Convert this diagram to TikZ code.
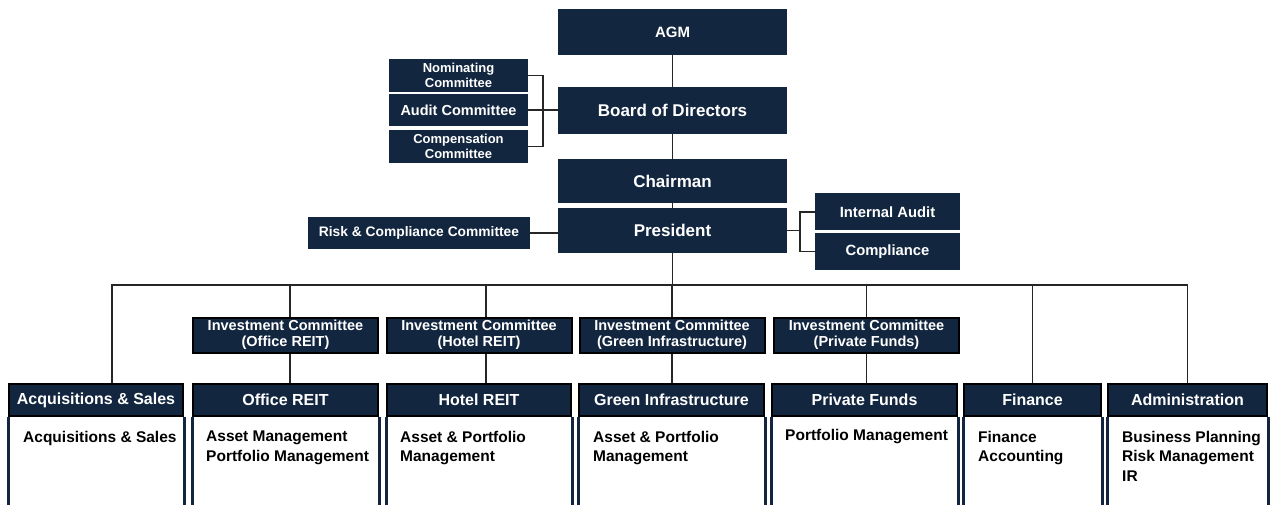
\documentclass[tikz,border=0pt]{standalone}
\usepackage{fontspec}
\setmainfont{Liberation Sans}
\definecolor{navy}{HTML}{13263F}
\begin{document}
\begin{tikzpicture}[x=1pt, y=-1pt,
    topbox/.style={fill=navy, text=white, font=\bfseries\fontsize{17}{20}\selectfont, minimum width=229pt, inner sep=0pt},
    combox/.style={fill=navy, text=white, align=center, font=\bfseries\fontsize{13}{15}\selectfont, minimum width=139pt, inner sep=0pt},
    sidebox/.style={fill=navy, text=white, font=\bfseries\fontsize{14.8}{17}\selectfont, inner sep=0pt},
    icbox/.style={fill=navy, draw=black, line width=2pt, text=white, align=center, font=\bfseries\fontsize{14.5}{16}\selectfont, minimum width=185pt, minimum height=35pt, inner sep=0pt},
    headbox/.style={fill=navy, draw=black, line width=2pt, text=white, font=\bfseries\fontsize{16}{19}\selectfont, minimum height=32pt, inner sep=0pt},
    bodytext/.style={anchor=north west, align=left, font=\bfseries\fontsize{15.5}{19.5}\selectfont, inner sep=0pt},
    bodyside/.style={navy, line width=3pt},
    link/.style={line width=1.2pt, black!85}]
    \useasboundingbox (0,0) rectangle (1288,505);

    % Top of the chart
    \node[topbox, minimum height=46pt, font=\bfseries\fontsize{15}{18}\selectfont] (agm) at (672.5,32) {AGM};
    \node[topbox, minimum height=47pt] (board) at (672.5,110.5) {Board of Directors};
    \node[topbox, minimum height=44pt] (chair) at (672.5,181) {Chairman};
    \node[topbox, minimum height=45pt] (pres) at (672.5,230.5) {President};
    \draw[link] (agm) -- (board);
    \draw[link] (board) -- (chair);
    \draw[link] (chair) -- (pres);

    % Board committees
    \node[combox, minimum height=33pt] (nomc) at (458.5,75.5) {Nominating\\Committee};
    \node[combox, minimum height=32pt, font=\bfseries\fontsize{14.5}{17}\selectfont] (audc) at (458.5,110) {Audit Committee};
    \node[combox, minimum height=33pt] (comc) at (458.5,146.5) {Compensation\\Committee};
    \coordinate (brL) at (543,110);
    \draw[link] (nomc.east) -| (brL) |- (comc.east);
    \draw[link] (audc.east) -- (board.west |- audc.east);

    % Beside the President
    \node[sidebox, minimum width=222pt, minimum height=32pt, font=\bfseries\fontsize{13.8}{16}\selectfont] (risk) at (419,233) {Risk \& Compliance Committee};
    \node[sidebox, minimum width=145pt, minimum height=37pt] (intaud) at (887.5,212) {Internal Audit};
    \node[sidebox, minimum width=145pt, minimum height=36pt] (compl) at (887.5,251.5) {Compliance};
    \coordinate (brR) at (800,230.5);
    \draw[link] (risk.east) -- (pres.west |- risk.east);
    \draw[link] (pres.east) -- (brR);
    \draw[link] (intaud.west) -| (brR) |- (compl.west);

    % Investment committees
    \node[icbox] (icOff) at (285.5,335) {Investment Committee\\(Office REIT)};
    \node[icbox] (icHot) at (479,335) {Investment Committee\\(Hotel REIT)};
    \node[icbox] (icGrn) at (672,335) {Investment Committee\\(Green Infrastructure)};
    \node[icbox] (icPrv) at (866.5,335) {Investment Committee\\(Private Funds)};

    % Departments
    \node[headbox, minimum width=174pt] (hAcq) at (96,400) {Acquisitions \& Sales};
    \node[headbox, minimum width=185pt] (hOff) at (285.5,400) {Office REIT};
    \node[headbox, minimum width=184pt] (hHot) at (479,400) {Hotel REIT};
    \node[headbox, minimum width=185pt] (hGrn) at (671.5,400) {Green Infrastructure};
    \node[headbox, minimum width=185pt] (hPrv) at (864.5,400) {Private Funds};
    \node[headbox, minimum width=137pt] (hFin) at (1032.5,400) {Finance};
    \node[headbox, minimum width=159pt] (hAdm) at (1187.5,400) {Administration};
    \foreach \h in {hAcq,hOff,hHot,hGrn,hPrv,hFin,hAdm} {
        \draw[bodyside] (\h.south west) -- (\h.south west |- 0,505);
        \draw[bodyside] (\h.south east) -- (\h.south east |- 0,505);
    }
    \node[bodytext] (tAcq) at (23,431) {Acquisitions \& Sales};
    \node[bodytext] (tOff) at (206,431) {Asset Management\\Portfolio Management};
    \node[bodytext] (tHot) at (400,431) {Asset \& Portfolio\\Management};
    \node[bodytext] (tGrn) at (593,431) {Asset \& Portfolio\\Management};
    \node[bodytext] (tPrv) at (785,429) {Portfolio Management};
    \node[bodytext] (tFin) at (978,431) {Finance\\Accounting};
    \node[bodytext] (tAdm) at (1122,431) {Business Planning\\Risk Management\\IR};

    % Reporting lines under the President
    \coordinate (busL) at (112,285);
    \coordinate (busR) at (hAdm.north |- busL);
    \draw[link] (pres.south) -- (pres.south |- busL);
    \draw[link] ([xshift=16pt]hAcq.north) -- (busL) -- (busR) -- (hAdm.north);
    \foreach \c/\h/\s in {icOff/hOff/4.5,icHot/hHot/7,icGrn/hGrn/0,icPrv/hPrv/0} {
        \draw[link] ([xshift=\s pt]\c.north |- busL) -- ([xshift=\s pt]\c.north);
        \draw[link] ([xshift=\s pt]\c.south) -- ([xshift=\s pt]\c.south |- \h.north);
    }
    \draw[link] (hFin.north |- busL) -- (hFin);
\end{tikzpicture}
\end{document}
